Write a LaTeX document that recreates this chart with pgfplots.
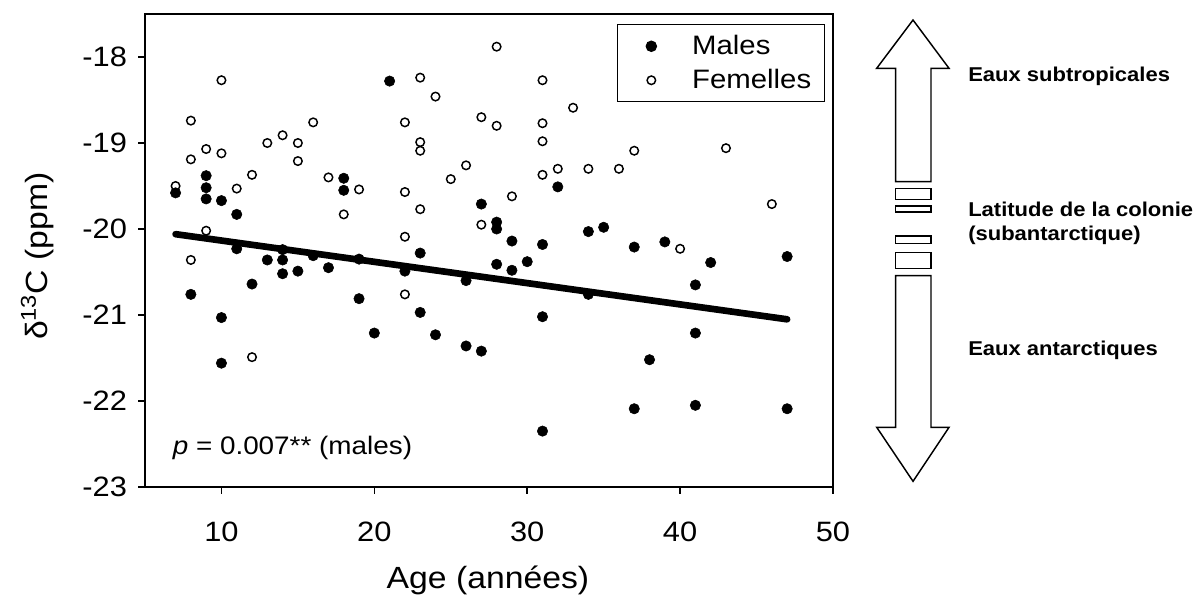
\documentclass[border=0pt]{standalone}
\usepackage{fontspec}
\setmainfont{Liberation Sans}[FakeStretch=1.1]
\usepackage{pgfplots}
\pgfplotsset{compat=1.18}

\begin{document}
\begin{tikzpicture}[x=0.75pt,y=0.75pt]
\begin{axis}[
    name=ax,
    width=516pt, height=354.75pt, scale only axis,
    xmin=5, xmax=50, ymin=-23, ymax=-17.5,
    xtick={10,20,30,40,50},
    ytick={-23,-22,-21,-20,-19,-18},
    yticklabels={-23,-22,-21,-20,-19,-18},
    tick align=outside,
    xtick pos=lower, ytick pos=left,
    major tick length=5pt,
    axis line style={line width=1.1pt},
    every tick/.style={line width=1.1pt, black},
    /pgf/number format/assume math mode=true,
    ticklabel style={font=\fontsize{21}{25}\selectfont},
    xticklabel style={yshift=-18pt},
    yticklabel style={xshift=-5pt},
    xlabel={Age (années)},
    ylabel={δ\textsuperscript{13}C (ppm)},
    label style={font=\fontsize{23}{27}\selectfont},
    xlabel style={at={(axis description cs:0.4985,-0.197)}, anchor=center},
    ylabel style={at={(axis description cs:-0.156,0.488)}, anchor=center},
    legend style={at={(0.988,0.978)}, anchor=north east, draw=black,
        line width=0.8pt, font=\fontsize{20}{24}\selectfont,
        inner xsep=7.75pt, inner ysep=6pt, row sep=5.5pt,
        /tikz/every odd column/.append style={column sep=24.75pt}},
    legend cell align=left,
    legend image code/.code={\path (-17.25pt,0pt) (0pt,0pt);
        \draw[#1] plot coordinates {(0pt,0pt)};},
]
\coordinate (O) at (rel axis cs:0,0);
\addplot[only marks, mark=*, mark size=3.9pt, black] coordinates {
(7,-19.58) (8,-20.76) (9,-19.38) (9,-19.52) (9,-19.65) (10,-19.67)
(10,-21.03) (10,-21.56) (11,-19.83) (11,-20.23) (12,-20.64) (13,-20.36)
(14,-20.24) (14,-20.36) (14,-20.52) (15,-20.49) (16,-20.31) (17,-20.45)
(18,-19.41) (18,-19.55) (19,-20.35) (19,-20.81) (20,-21.21) (21,-18.28)
(22,-20.49) (23,-20.28) (23,-20.97) (24,-21.23) (26,-20.60) (26,-21.36)
(27,-19.71) (27,-21.42) (28,-19.92) (28,-20.00) (28,-20.41) (29,-20.14)
(29,-20.48) (30,-20.38) (31,-20.18) (31,-21.02) (31,-22.35) (32,-19.51)
(34,-20.03) (34,-20.76) (35,-19.98) (37,-20.21) (37,-22.09) (38,-21.52)
(39,-20.15) (41,-20.65) (41,-21.21) (41,-22.05) (42,-20.39) (47,-20.32)
(47,-22.09)
};
\addlegendentry{Males}
\addplot[only marks, mark=o, mark size=3.2pt, black,
    mark options={fill=white, line width=1.1pt}] coordinates {
(7,-19.50) (8,-18.74) (8,-19.19) (8,-20.36) (9,-19.07) (9,-20.02)
(10,-18.27) (10,-19.12) (11,-19.53) (12,-19.37) (12,-21.49) (13,-19.00)
(14,-18.91) (15,-19.00) (15,-19.21) (16,-18.76) (17,-19.40) (18,-19.83)
(19,-19.54) (22,-18.76) (22,-19.57) (22,-20.09) (22,-20.76) (23,-18.24)
(23,-18.99) (23,-19.09) (23,-19.77) (24,-18.46) (25,-19.42) (26,-19.26)
(27,-18.70) (27,-19.95) (28,-17.88) (28,-18.80) (29,-19.62) (31,-18.27)
(31,-18.77) (31,-18.98) (31,-19.37) (32,-19.30) (33,-18.59) (34,-19.30)
(36,-19.30) (37,-19.09) (40,-20.23) (43,-19.06) (46,-19.71)
};
\addlegendentry{Femelles}
% regression line (males)
\addplot[black, line width=5pt, line cap=round, forget plot] coordinates {(7,-20.06) (47,-21.05)};
\node[anchor=west, inner sep=0pt, font=\fontsize{19}{23}\selectfont] at (axis description cs:0.04,0.082)
    {\textit{p} = 0.007** (males)};
\end{axis}

% picture origin: 145px left of and 116px below the axis corner
\coordinate (P) at ([shift={(-145,-116)}]O);

% latitude arrows on the right
\begin{scope}[shift={(P)}]
\begin{scope}[line width=1.1pt]
\draw (895.7,421.3) -- (895.7,534.7) -- (876.7,534.7) -- (913,583)
      -- (949,534.7) -- (931,534.7) -- (931,421.3) -- cycle;
\draw (895.7,403.7) rectangle (931,414.7);
\draw (895.7,391) rectangle (931,397);
\draw (895.7,359.3) rectangle (931,367);
\draw (895.7,334.7) rectangle (931,350.7);
\draw (895.7,327.3) -- (895.7,175.7) -- (876.7,175.7) -- (913,121.7)
      -- (949,175.7) -- (931,175.7) -- (931,327.3) -- cycle;
\end{scope}
\begin{scope}[every node/.style={anchor=west, inner sep=0pt, font=\bfseries\fontsize{15}{18}\selectfont}]
\node at (968,526.3) {Eaux subtropicales};
\node at (968,394) {Latitude de la colonie};
\node at (968,368) {(subantarctique)};
\node at (968,253) {Eaux antarctiques};
\end{scope}
\end{scope}

\pgfresetboundingbox
\path[use as bounding box] (P) rectangle ([shift={(1194,603)}]P);
\end{tikzpicture}
\end{document}
